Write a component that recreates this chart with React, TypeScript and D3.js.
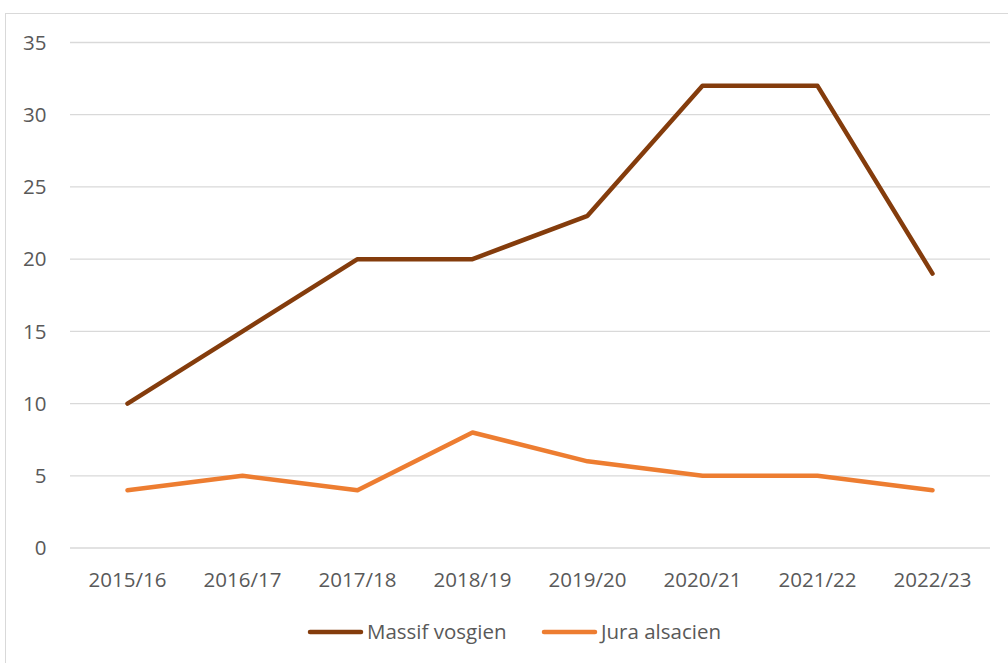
import React from "react";
import * as d3 from "d3";

const categories = ["2015/16", "2016/17", "2017/18", "2018/19", "2019/20", "2020/21", "2021/22", "2022/23"];
const massifVosgien = [10, 15, 20, 20, 23, 32, 32, 19];
const juraAlsacien = [4, 5, 4, 8, 6, 5, 5, 4];
const yTicks = [0, 5, 10, 15, 20, 25, 30, 35];

const W = 1008, H = 663;
const left = 70, right = 990, top = 42.5, bottom = 548;
const font = "'Open Sans', 'Liberation Sans', sans-serif";
const fs = 20.5;

export default function App() {
  const x = d3.scaleBand<string>().domain(categories).range([left, right]);
  const y = d3.scaleLinear().domain([0, 35]).range([bottom, top]);
  const line = d3.line<number>()
    .x((_, i) => (x(categories[i]) as number) + x.bandwidth() / 2)
    .y((d) => y(d));
  const series = [
    { name: "Massif vosgien", values: massifVosgien, color: "#843C0C" },
    { name: "Jura alsacien", values: juraAlsacien, color: "#ED7D31" },
  ];
  const legendX = [308, 542];
  return (
    <svg width={W} height={H} style={{ position: "absolute", left: 0, top: 0 }} fontFamily={font}>
      <rect x={0} y={0} width={W} height={H} fill="#fff" />
      <rect x={5.5} y={13.5} width={W + 10} height={H + 10} fill="none" stroke="#d9d9d9" strokeWidth={1} />
      {yTicks.map((t) => (
        <g key={t}>
          <line x1={left} x2={right} y1={y(t)} y2={y(t)} stroke="#d9d9d9" strokeWidth={1.3} />
          <text x={46.5} y={y(t)} dy="0.35em" textAnchor="end" fontSize={fs} fill="#595959">{t}</text>
        </g>
      ))}
      {categories.map((c) => (
        <text key={c} x={(x(c) as number) + x.bandwidth() / 2} y={580} dy="0.35em" textAnchor="middle" fontSize={fs} fill="#595959">{c}</text>
      ))}
      {series.map((s) => (
        <path key={s.name} d={line(s.values) || ""} fill="none" stroke={s.color} strokeWidth={4.5} strokeLinejoin="round" strokeLinecap="round" />
      ))}
      {series.map((s, i) => (
        <g key={s.name}>
          <line x1={legendX[i] + 2} x2={legendX[i] + 53} y1={632} y2={632} stroke={s.color} strokeWidth={4.5} strokeLinecap="round" />
          <text x={legendX[i] + 59} y={632} dy="0.35em" fontSize={fs} fill="#595959">{s.name}</text>
        </g>
      ))}
    </svg>
  );
}
